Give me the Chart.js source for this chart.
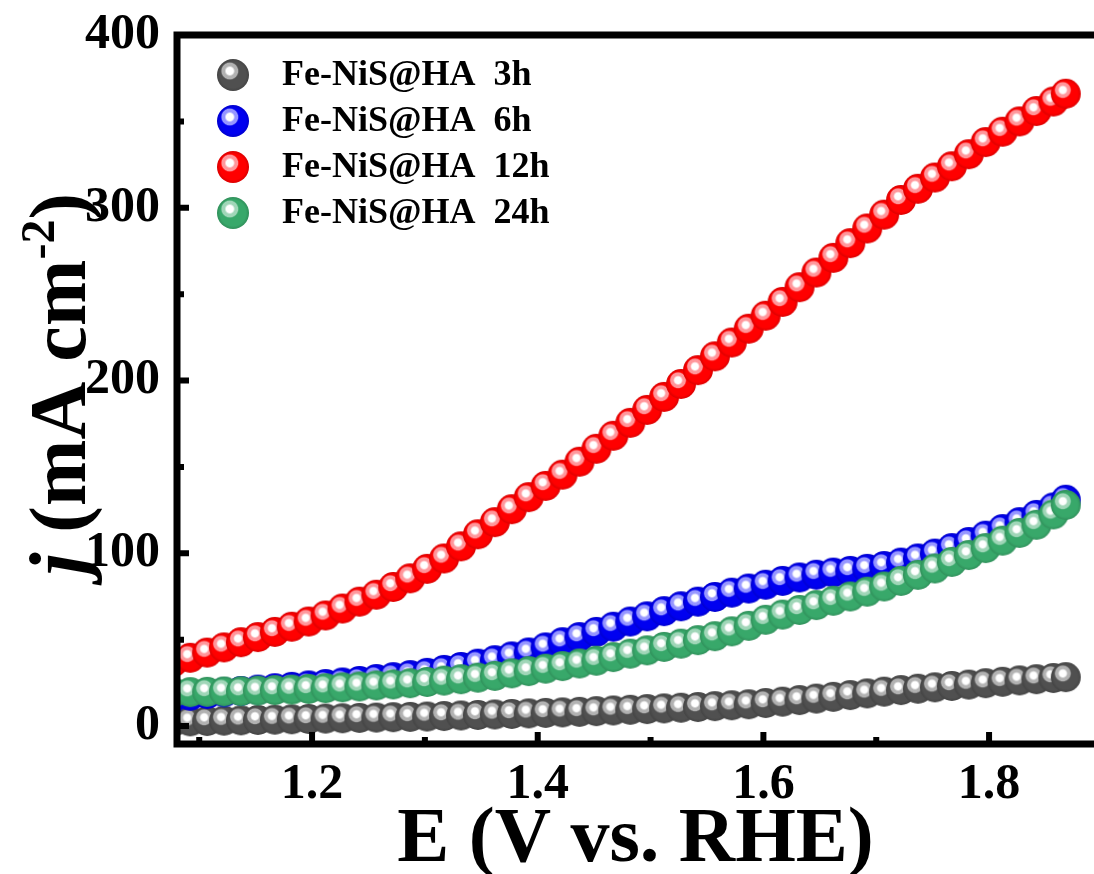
<!DOCTYPE html>
<html>
<head>
<meta charset="utf-8">
<title>LSV Fe-NiS@HA</title>
<script src="https://cdn.jsdelivr.net/npm/chart.js@4.4.1/dist/chart.umd.min.js"></script>
<style>
  html, body { margin: 0; padding: 0; background: #fff; }
  #wrap { width: 1094px; height: 874px; }
  canvas { display: block; }
</style>
</head>
<body>
<div id="wrap"><canvas id="lsv" width="1094" height="874"></canvas></div>
<script>
// potential (V vs. RHE), shared by all four scans
const potential = [1.077, 1.092, 1.107, 1.122, 1.137, 1.152, 1.167, 1.182, 1.197, 1.212,
  1.227, 1.242, 1.257, 1.272, 1.287, 1.302, 1.317, 1.332, 1.347, 1.362,
  1.377, 1.392, 1.407, 1.422, 1.437, 1.452, 1.467, 1.482, 1.497, 1.512,
  1.527, 1.542, 1.557, 1.572, 1.587, 1.602, 1.617, 1.632, 1.647, 1.662,
  1.677, 1.692, 1.707, 1.722, 1.737, 1.752, 1.767, 1.782, 1.797, 1.812,
  1.827, 1.842, 1.857, 1.868];

// current density (mA cm-2)
const j3h = [2.5, 2.7, 2.9, 3.1, 3.3, 3.5, 3.7, 3.9, 4.1, 4.3,
  4.5, 4.7, 4.9, 5.1, 5.3, 5.5, 5.8, 6.1, 6.4, 6.7,
  7.0, 7.3, 7.6, 7.9, 8.2, 8.6, 9.0, 9.4, 9.8, 10.2,
  10.6, 11.0, 11.5, 12.0, 12.6, 13.3, 14.1, 15.0, 15.9, 16.9,
  17.9, 18.9, 19.9, 20.8, 21.6, 22.4, 23.2, 24.0, 24.8, 25.6,
  26.4, 27.1, 27.8, 28.3];

const j6h = [16.5, 17.5, 18.5, 19.5, 20.3, 21.1, 21.9, 22.7, 23.5, 24.3,
  25.2, 26.1, 27.2, 28.3, 29.5, 30.8, 32.5, 34.2, 36.1, 38.1,
  40.3, 42.6, 45.5, 48.5, 51.5, 54.5, 57.5, 60.5, 63.5, 66.5,
  69.3, 72.0, 74.7, 77.2, 79.6, 81.8, 84.0, 86.0, 87.6, 88.8,
  89.8, 91.0, 92.6, 94.6, 97.0, 99.8, 103.0, 106.5, 110.2, 114.0,
  118.0, 122.2, 126.5, 131.0];

const j12h = [37, 39.5, 42.5, 45.5, 48.5, 51.5, 54.5, 57.5, 60.5, 64,
  68, 72, 76, 80.5, 85.5, 91, 97, 104, 111, 118,
  125.5, 132.5, 139, 145.5, 153, 160.5, 168, 175.5, 183, 190.5,
  198, 206, 214, 222, 230, 237.5, 245.5, 254, 262.5, 271,
  279.5, 288, 296, 304.5, 311, 317.5, 324, 331, 338, 344,
  350, 356, 361.5, 366];

const j24h = [19.5, 19.6, 19.8, 20.0, 20.2, 20.5, 20.8, 21.1, 21.5, 21.9,
  22.4, 22.9, 23.5, 24.1, 24.8, 25.5, 26.3, 27.1, 28.0, 29.0,
  30.5, 31.8, 33.2, 34.7, 36.2, 37.8, 39.9, 41.9, 43.8, 45.8,
  47.7, 49.7, 52.0, 54.8, 58.0, 61.5, 64.5, 67.2, 70.0, 72.5,
  75.0, 77.8, 80.8, 84.0, 87.5, 91.2, 95.0, 99.0, 103.0, 107.3,
  111.8, 116.5, 122.5, 128.0];

const seriesLabels = ['Fe-NiS@HA  3h', 'Fe-NiS@HA  6h', 'Fe-NiS@HA  12h', 'Fe-NiS@HA  24h'];

const xMajor = [1.2, 1.4, 1.6, 1.8];
const xMinor = [1.1, 1.3, 1.5, 1.7];
const yMajor = [0, 100, 200, 300, 400];
const yMinor = [50, 150, 250, 350];

const SERIF = "'Liberation Serif', 'Times New Roman', serif";

// shaded ball marker: [base rgb, highlight tint rgb]
const ballColors = [
  [[80, 80, 80], [178, 178, 178]],
  [[0, 0, 240], [150, 150, 255]],
  [[255, 0, 0], [255, 150, 155]],
  [[56, 168, 106], [160, 214, 184]]
];

function rgb(c, a) {
  return a === undefined ? `rgb(${c[0]},${c[1]},${c[2]})` : `rgba(${c[0]},${c[1]},${c[2]},${a})`;
}

function makeBall(r, base, tint) {
  const c = document.createElement('canvas');
  const s = Math.ceil(r * 2) + 2;
  c.width = c.height = s;
  const g = c.getContext('2d');
  const cx = s / 2, cy = s / 2;
  // body with a slightly darker rim
  const body = g.createRadialGradient(cx, cy, 0, cx, cy, r);
  body.addColorStop(0, rgb(base));
  body.addColorStop(0.8, rgb(base));
  body.addColorStop(1, rgb(base.map(v => Math.round(v * 0.85))));
  g.beginPath();
  g.arc(cx, cy, r, 0, Math.PI * 2);
  g.fillStyle = body;
  g.fill();
  // specular spot up-left
  const hx = cx - r * 0.2, hy = cy - r * 0.25, hr = r * 0.6;
  const spot = g.createRadialGradient(hx, hy, 0, hx, hy, hr);
  spot.addColorStop(0, '#fff');
  spot.addColorStop(0.36, '#fff');
  spot.addColorStop(0.55, rgb(tint));
  spot.addColorStop(0.82, rgb(tint));
  spot.addColorStop(1, rgb(base, 0));
  g.beginPath();
  g.arc(hx, hy, hr, 0, Math.PI * 2);
  g.fillStyle = spot;
  g.fill();
  return c;
}

const pointBalls = ballColors.map(c => makeBall(15, c[0], c[1]));
const legendBalls = ballColors.map(c => makeBall(16, c[0], c[1]));

function toPoints(ys) {
  return potential.map((x, i) => ({ x: x, y: ys[i] }));
}

// frame, inward ticks
const frameAndTicks = {
  id: 'frameAndTicks',
  afterDatasetsDraw(chart) {
    const { ctx, chartArea: a, scales: { x, y } } = chart;
    ctx.save();
    ctx.strokeStyle = '#000';
    ctx.lineCap = 'butt';
    ctx.lineWidth = 6;
    ctx.beginPath();
    xMajor.forEach(v => { const p = x.getPixelForValue(v); ctx.moveTo(p, a.bottom); ctx.lineTo(p, a.bottom - 12); });
    xMinor.forEach(v => { const p = x.getPixelForValue(v); ctx.moveTo(p, a.bottom); ctx.lineTo(p, a.bottom - 7); });
    yMajor.forEach(v => { const p = y.getPixelForValue(v); ctx.moveTo(a.left, p); ctx.lineTo(a.left + 12, p); });
    yMinor.forEach(v => { const p = y.getPixelForValue(v); ctx.moveTo(a.left, p); ctx.lineTo(a.left + 7, p); });
    ctx.stroke();

    ctx.lineWidth = 7;
    ctx.lineJoin = 'miter';
    ctx.beginPath();
    ctx.moveTo(a.right, a.top);
    ctx.lineTo(a.left, a.top);
    ctx.lineTo(a.left, a.bottom);
    ctx.lineTo(a.right, a.bottom);
    ctx.stroke();
    ctx.restore();
  }
};

// y title with italic j and superscript, plus ball legend
const annotations = {
  id: 'annotations',
  afterDraw(chart) {
    const { ctx } = chart;
    ctx.save();
    ctx.fillStyle = '#000';

    // y axis title, rotated
    const parts = [
      { t: 'j', font: `italic bold 80px ${SERIF}`, rise: 0 },
      { t: ' (mA cm', font: `bold 80px ${SERIF}`, rise: 0 },
      { t: '-2', font: `bold 48px ${SERIF}`, rise: 31 },
      { t: ')', font: `bold 80px ${SERIF}`, rise: 0 }
    ];
    let total = 0;
    parts.forEach(p => { ctx.font = p.font; p.w = ctx.measureText(p.t).width; total += p.w; });
    ctx.translate(85, 384);
    ctx.rotate(-Math.PI / 2);
    ctx.textBaseline = 'alphabetic';
    ctx.textAlign = 'left';
    let u = -total / 2;
    parts.forEach(p => { ctx.font = p.font; ctx.fillText(p.t, u, -p.rise); u += p.w; });
    ctx.setTransform(1, 0, 0, 1, 0, 0);

    // legend
    ctx.font = `bold 36px ${SERIF}`;
    ctx.textBaseline = 'middle';
    chart.data.datasets.forEach((ds, i) => {
      const cy = 75 + i * 46;
      const img = legendBalls[i];
      ctx.drawImage(img, 233 - img.width / 2, cy - img.height / 2);
      ctx.fillText(ds.label, 282, cy + 1);
    });
    ctx.restore();
  }
};

const series = [j3h, j6h, j12h, j24h];
const drawOrder = [4, 2, 3, 1];

new Chart(document.getElementById('lsv'), {
  type: 'scatter',
  data: {
    datasets: series.map((ys, i) => ({
      label: seriesLabels[i],
      data: toPoints(ys),
      pointStyle: pointBalls[i],
      pointRadius: 14,
      showLine: false,
      clip: 0,
      order: drawOrder[i]
    }))
  },
  options: {
    responsive: false,
    animation: false,
    events: [],
    layout: { autoPadding: false, padding: { top: 35, right: 0, left: 0, bottom: 0 } },
    plugins: {
      legend: { display: false },
      tooltip: { enabled: false }
    },
    scales: {
      x: {
        type: 'linear',
        min: 1.0803,
        max: 1.893,
        afterBuildTicks: s => { s.ticks = xMajor.map(v => ({ value: v })); },
        afterFit: s => { s.height = 130; s.paddingLeft = 0; s.paddingRight = 0; },
        grid: { display: false, drawTicks: false },
        border: { display: false },
        ticks: {
          padding: 11,
          color: '#000',
          font: { family: SERIF, size: 50, weight: 'bold' },
          callback: v => v.toFixed(1)
        },
        title: {
          display: true,
          text: 'E (V vs. RHE)',
          color: '#000',
          padding: 0,
          font: { family: SERIF, size: 78, weight: 'bold', lineHeight: 0.85 }
        }
      },
      y: {
        type: 'linear',
        min: -10.4,
        max: 400,
        afterBuildTicks: s => { s.ticks = yMajor.map(v => ({ value: v })); },
        afterFit: s => { s.width = 177; s.paddingTop = 0; s.paddingBottom = 0; },
        grid: { display: false, drawTicks: false },
        border: { display: false },
        ticks: {
          padding: 17,
          color: '#000',
          font: { family: SERIF, size: 50, weight: 'bold' }
        }
      }
    }
  },
  plugins: [frameAndTicks, annotations]
});
</script>
</body>
</html>
